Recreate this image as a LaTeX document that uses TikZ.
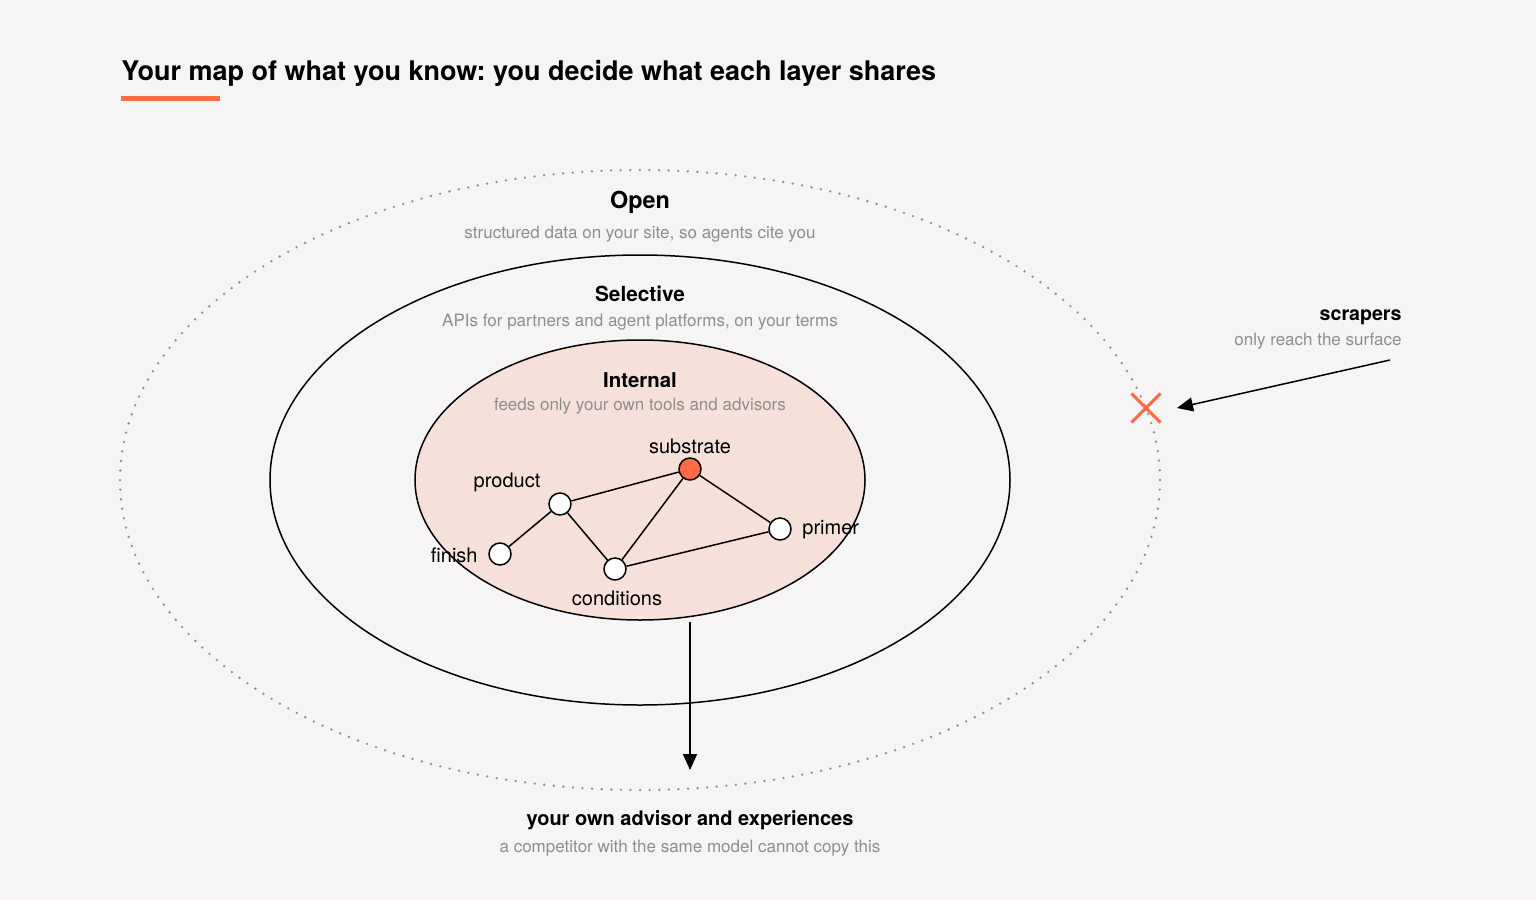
\documentclass[tikz,border=0pt]{standalone}
\usepackage{fontspec}
\setmainfont{TeX Gyre Heros}
\frenchspacing
\usetikzlibrary{arrows.meta, shapes.misc}
\definecolor{paper}{HTML}{F6F4F5}
\definecolor{flame}{HTML}{FF6B45}
\definecolor{blush}{HTML}{F6E0DA}
\definecolor{mist}{HTML}{8E8E8E}
\tikzset{
    layer/.style={
        draw, line width=0.75pt
    },
    outerlayer/.style={
        draw=mist, line width=1.3pt, line cap=round, dash pattern=on 0pt off 4.8pt
    },
    head/.style={
        inner sep=0pt, font=\bfseries\fontsize{10.2}{12}\selectfont
    },
    sub/.style={
        inner sep=0pt, text=mist, font=\fontsize{8.5}{10}\selectfont
    },
    blob/.style={
        circle, draw, fill=white, line width=0.75pt,
        minimum size=11pt, inner sep=0pt
    },
    tag/.style={
        inner sep=0pt, font=\fontsize{10}{12}\selectfont
    },
    mm/.style={
        -{Triangle[length=8pt, width=7pt]}, line width=0.75pt
    }
}
\begin{document}
\begin{tikzpicture}[x=0.5pt, y=-0.5pt]
        \useasboundingbox[fill=paper] (0,0) rectangle (1536,900);

        \node[inner sep=0pt, anchor=west, font=\bfseries\fontsize{13.5}{16}\selectfont] (title) at (121,73) {Your map of what you know: you decide what each layer shares};
        \fill[flame] (121,96) rectangle (220,101);

        % the three layers
        \draw[outerlayer] (640,480) ellipse [x radius=520, y radius=310];
        \draw[layer] (640,480) ellipse [x radius=370, y radius=225];
        \draw[layer, fill=blush] (640,480) ellipse [x radius=225, y radius=140];

        \node[head, font=\bfseries\fontsize{11.7}{14}\selectfont] (open) at (640,202) {Open};
        \node[sub] (opensub) at (640,234) {structured data on your site, so agents cite you};
        \node[head, font=\bfseries\fontsize{10.4}{12}\selectfont] (selective) at (640,294) {Selective};
        \node[sub] (selectivesub) at (640,322) {APIs for partners and agent platforms, on your terms};
        \node[head] (internal) at (640,380) {Internal};
        \node[sub] (internalsub) at (640,406) {feeds only your own tools and advisors};

        % the graph inside
        \node[blob, fill=flame] (substrate)  at (690,469) {};
        \node[blob] (product)    at (560,504) {};
        \node[blob] (finish)     at (500,554) {};
        \node[blob] (conditions) at (615,569) {};
        \node[blob] (primer)     at (780,529) {};

        \node[tag] (substratetag)  at (690,446) {substrate};
        \node[tag] (producttag)    at (507,482) {product};
        \node[tag, anchor=east] (finishtag) at (478,555) {finish};
        \node[tag] (conditionstag) at (617,598) {conditions};
        \node[tag, anchor=west] (primertag) at (802,530) {primer};

        \path[line width=0.75pt] (product) edge (substrate)
                (product) edge (finish)
                (product) edge (conditions)
                (substrate) edge (conditions)
                (substrate) edge (primer)
                (conditions) edge (primer);

        % scrapers
        \node[cross out, draw=flame, line width=1.5pt, minimum size=13pt, inner sep=0pt] (block) at (1146,408) {};
        \node[head, anchor=east, font=\bfseries\fontsize{9.8}{12}\selectfont] (scrapers) at (1402,317) {scrapers};
        \node[sub, anchor=east] (scraperssub) at (1402,341) {only reach the surface};
        \coordinate (scrapetail) at (1390,360);
        \coordinate (scrapetip) at (1177,408);
        \draw[mm] (scrapetail) -- (scrapetip);

        % own advisor
        \coordinate (feed) at (690,622);
        \coordinate (feedtip) at (690,770);
        \draw[mm] (feed) -- (feedtip);
        \node[head, font=\bfseries\fontsize{10}{12}\selectfont] (advisor) at (690,820) {your own advisor and experiences};
        \node[sub] (advisorsub) at (690,848) {a competitor with the same model cannot copy this};
    \end{tikzpicture}
\end{document}
